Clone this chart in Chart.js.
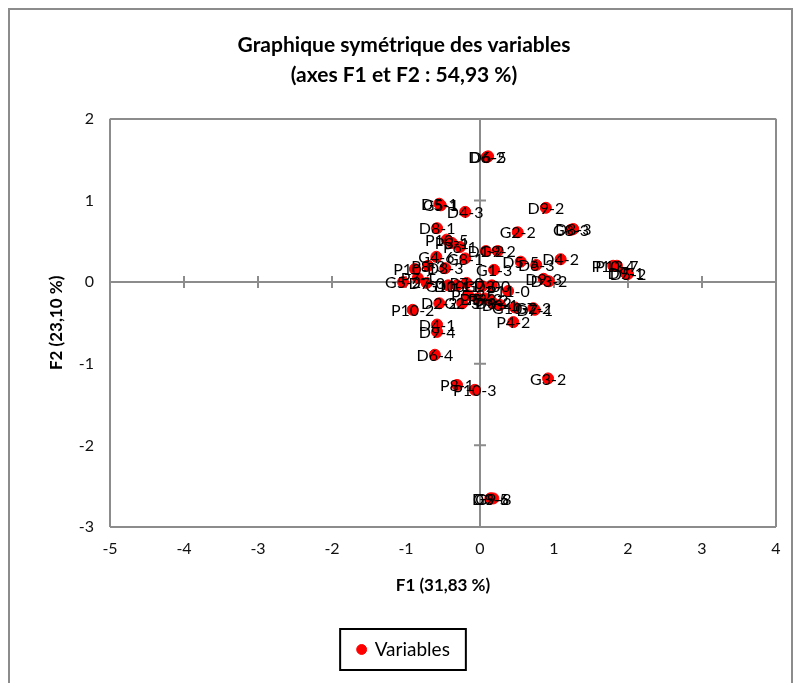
<!DOCTYPE html>
<html>
<head>
<meta charset="utf-8">
<script src="https://cdn.jsdelivr.net/npm/chart.js@4.4.0/dist/chart.umd.min.js"></script>
<style>
  body { margin: 0; background: #fff; }
  #frame { position: absolute; left: 8px; top: 8px; width: 785px; height: 700px; border: 2px solid #8c8c8c; box-sizing: border-box; }
  #wrap { position: absolute; left: 0; top: 0; width: 800px; height: 683px; }
</style>
</head>
<body>
<div id="frame"></div>
<div id="wrap"><canvas id="biplot"></canvas></div>
<script>
// variable labels and their coordinates on F1 / F2
const pointLabels = [
  'D6-5', 'D6-2', 'G5-1', 'D5-1', 'D4-3', 'D9-2', 'D8-3', 'G8-3', 'G2-2', 'D8-1',
  'D4-2', 'P13-7', 'P10-4', 'D5-2', 'D9-1', 'D5-5', 'D6-3', 'D9-3', 'D3-2', 'G1-3',
  'D1-2', 'G9-2', 'P10-5', 'P3-1', 'P6-1', 'G4-6', 'G8-1', 'P10-1', 'P8-3', 'D3-3',
  'G5-2', 'P7-1', 'D7-0', 'G10-1', 'D10-1', 'P7-0', 'G7-0', 'D2-0', 'P11-0', 'P5-2',
  'D5-3', 'P9-2', 'G6-2', 'P10-2', 'D2-2', 'G2-3', 'D8-2', 'D3-1', 'G10-2', 'G7-2',
  'D7-1', 'P4-2', 'D4-1', 'D9-4', 'D6-4', 'P8-1', 'P10-3', 'G3-2', 'G9-8', 'D9-5',
  'G3-6'
];
const f1Values = [
  0.11, 0.09, -0.53, -0.55, -0.20, 0.89, 1.26, 1.23, 0.51, -0.58,
  1.09, 1.85, 1.80, 2.00, 1.97, 0.55, 0.76, 0.86, 0.93, 0.19,
  0.08, 0.24, -0.45, -0.38, -0.27, -0.59, -0.20, -0.88, -0.70, -0.47,
  -1.04, -0.84, -0.72, -0.43, -0.31, -0.18, 0.03, 0.16, 0.38, -0.16,
  -0.03, 0.07, 0.14, -0.91, -0.55, -0.24, 0.18, 0.27, 0.47, 0.72,
  0.74, 0.45, -0.58, -0.58, -0.61, -0.31, -0.07, 0.92, 0.18, 0.14,
  0.15
];
const f2Values = [
  1.54, 1.53, 0.94, 0.96, 0.86, 0.91, 0.65, 0.64, 0.61, 0.66,
  0.28, 0.20, 0.20, 0.10, 0.11, 0.25, 0.21, 0.04, 0.01, 0.15,
  0.38, 0.38, 0.52, 0.48, 0.43, 0.31, 0.29, 0.16, 0.20, 0.17,
  0.00, 0.05, -0.01, -0.04, -0.04, -0.01, -0.05, -0.04, -0.11, -0.16,
  -0.20, -0.20, -0.22, -0.34, -0.26, -0.26, -0.26, -0.28, -0.31, -0.32,
  -0.34, -0.49, -0.52, -0.61, -0.89, -1.26, -1.32, -1.18, -2.65, -2.65,
  -2.65
];
const xRange = [-5, 4];
const yRange = [-3, 2];

const axisGrey = '#8c8c8c';
const fontFamily = 'Lato, "Open Sans", sans-serif';

const points = f1Values.map((v, i) => ({ x: v, y: f2Values[i] }));

function edgeOrZero(ctx) {
  const v = ctx.tick.value;
  const s = ctx.scale;
  return (v === 0 || v === s.min || v === s.max) ? axisGrey : 'rgba(0,0,0,0)';
}

// small tick marks crossing the zero lines
const zeroTicks = {
  id: 'zeroTicks',
  beforeDatasetsDraw(chart) {
    const { ctx, scales: { x, y } } = chart;
    const x0 = x.getPixelForValue(0);
    const y0 = y.getPixelForValue(0);
    ctx.save();
    ctx.strokeStyle = axisGrey;
    ctx.lineWidth = 2;
    ctx.beginPath();
    x.ticks.forEach(t => {
      if (t.value === x.min || t.value === x.max) return;
      const px = x.getPixelForValue(t.value);
      ctx.moveTo(px, y0 - 6);
      ctx.lineTo(px, y0 + 6);
    });
    y.ticks.forEach(t => {
      if (t.value === y.min || t.value === y.max) return;
      const py = y.getPixelForValue(t.value);
      ctx.moveTo(x0 - 6, py);
      ctx.lineTo(x0 + 6, py);
    });
    ctx.stroke();
    ctx.restore();
  }
};

// label on each point (centered on it)
const pointNames = {
  id: 'pointNames',
  afterDatasetsDraw(chart) {
    const { ctx } = chart;
    const meta = chart.getDatasetMeta(0);
    ctx.save();
    ctx.font = '16px ' + fontFamily;
    ctx.fillStyle = '#000';
    ctx.textAlign = 'center';
    ctx.textBaseline = 'middle';
    meta.data.forEach((el, i) => {
      ctx.fillText(pointLabels[i], el.x, el.y + 1);
    });
    ctx.restore();
  }
};

// black frame around the legend
const legendFrame = {
  id: 'legendFrame',
  afterDraw(chart) {
    const hb = chart.legend.legendHitBoxes[0];
    if (!hb) return;
    const { ctx } = chart;
    ctx.save();
    ctx.strokeStyle = '#000';
    ctx.lineWidth = 2;
    ctx.strokeRect(hb.left - 18, hb.top - 11, hb.width + 34, hb.height + 22);
    ctx.restore();
  }
};

const ctx = document.getElementById('biplot');
const biplot = new Chart(ctx, {
  type: 'scatter',
  data: {
    datasets: [{
      label: 'Variables',
      data: points,
      backgroundColor: '#ff0000',
      borderColor: '#ff0000',
      pointRadius: 5.5,
      pointHoverRadius: 5.5
    }]
  },
  options: {
    responsive: true,
    maintainAspectRatio: false,
    animation: false,
    layout: { padding: { left: 32, right: 24, top: 0, bottom: 14 } },
    plugins: {
      title: {
        display: true,
        text: ['Graphique symétrique des variables', '(axes F1 et F2 : 54,93 %)'],
        color: '#000',
        font: { family: fontFamily, size: 21, weight: 'bold', lineHeight: 1.4 },
        padding: { top: 31, bottom: 29 }
      },
      legend: {
        position: 'bottom',
        labels: {
          usePointStyle: true,
          pointStyle: 'circle',
          boxWidth: 7,
          boxHeight: 7,
          color: '#000',
          padding: 10,
          font: { family: fontFamily, size: 19 }
        }
      },
      tooltip: { enabled: false }
    },
    scales: {
      x: {
        type: 'linear',
        min: xRange[0],
        max: xRange[1],
        afterFit(scale) { scale.height = 103; },
        ticks: { stepSize: 1, color: '#111', padding: 12, font: { family: fontFamily, size: 16 } },
        grid: { color: edgeOrZero, lineWidth: 2, drawTicks: false },
        border: { display: false },
        title: {
          display: true,
          text: 'F1 (31,83 %)',
          color: '#000',
          font: { family: fontFamily, size: 17, weight: 'bold' },
          padding: { top: 0, bottom: 34 }
        }
      },
      y: {
        type: 'linear',
        min: yRange[0],
        max: yRange[1],
        afterFit(scale) { scale.width = 78; },
        ticks: { stepSize: 1, color: '#111', padding: 16, font: { family: fontFamily, size: 16 } },
        grid: { color: edgeOrZero, lineWidth: 2, drawTicks: false },
        border: { display: false },
        title: {
          display: true,
          text: 'F2 (23,10 %)',
          color: '#000',
          font: { family: fontFamily, size: 17, weight: 'bold' },
          padding: { top: 14, bottom: 0 }
        }
      }
    }
  },
  plugins: [zeroTicks, pointNames, legendFrame]
});
</script>
</body>
</html>
